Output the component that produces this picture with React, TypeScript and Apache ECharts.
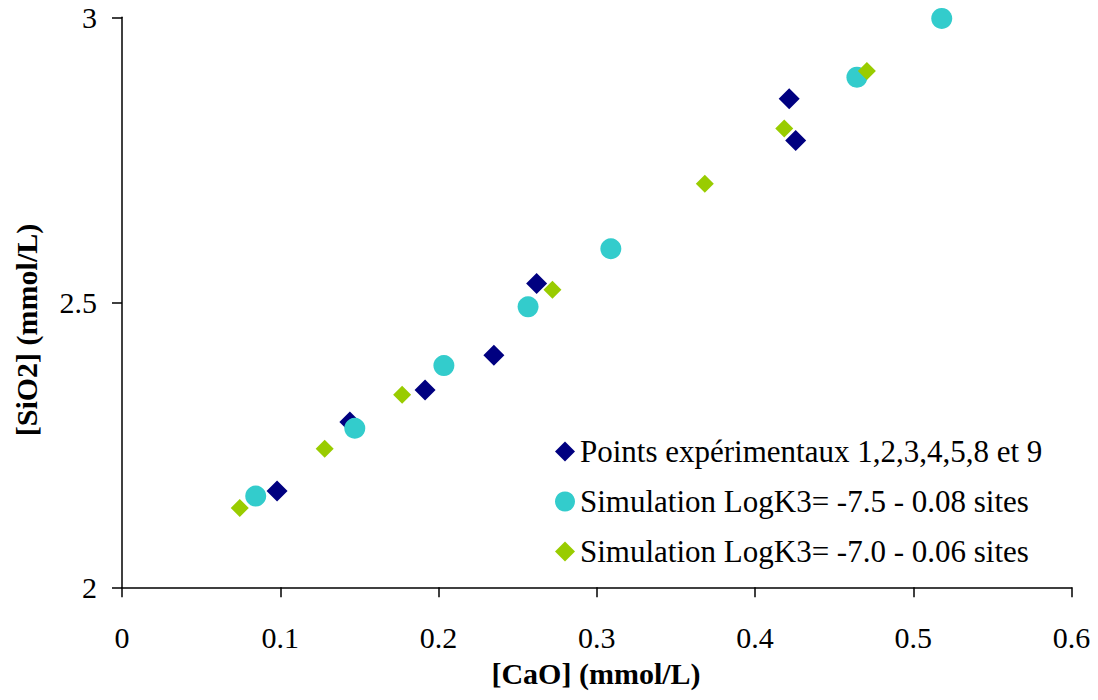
import React, { useEffect, useRef } from "react";
import * as echarts from "echarts";

const seriesNames = [
  "Points expérimentaux 1,2,3,4,5,8 et 9",
  "Simulation LogK3= -7.5 - 0.08 sites",
  "Simulation LogK3= -7.0 - 0.06 sites",
];

const experimental: [number, number][] = [
  [0.098, 2.169],
  [0.144, 2.29],
  [0.1915, 2.346],
  [0.235, 2.407],
  [0.262, 2.533],
  [0.4216, 2.857],
  [0.4257, 2.784],
];

const simulation75: [number, number][] = [
  [0.0845, 2.16],
  [0.1471, 2.279],
  [0.2034, 2.389],
  [0.2566, 2.492],
  [0.3089, 2.594],
  [0.4644, 2.895],
  [0.518, 2.998],
];

const simulation70: [number, number][] = [
  [0.0744, 2.139],
  [0.1281, 2.243],
  [0.177, 2.338],
  [0.272, 2.522],
  [0.3683, 2.708],
  [0.4185, 2.805],
  [0.4707, 2.906],
];

const colors = ["#000080", "#33CCCC", "#99CC00"];
const xTitle = "[CaO] (mmol/L)";
const yTitle = "[SiO2] (mmol/L)";
const FONT = "'Liberation Serif', 'Times New Roman', serif";

export default function App() {
  const ref = useRef<HTMLDivElement>(null);
  useEffect(() => {
    document.body.style.margin = "0";
    if (!ref.current) return;
    const chart = echarts.init(ref.current, null, { renderer: "svg" });
    chart.setOption({
      animation: false,
      backgroundColor: "#ffffff",
      grid: { left: 122, right: 26.5, top: 17.3, bottom: 112.7, containLabel: false },
      xAxis: {
        type: "value",
        min: 0,
        max: 0.6,
        interval: 0.1,
        axisLine: { show: true, lineStyle: { color: "#000", width: 1.5 } },
        axisTick: { show: true, inside: false, length: 10, lineStyle: { color: "#000", width: 1.5 } },
        axisLabel: { margin: 35, fontFamily: FONT, fontSize: 30, color: "#000" },
        splitLine: { show: false },
      },
      yAxis: {
        type: "value",
        min: 2,
        max: 3,
        interval: 0.5,
        axisLine: { show: true, lineStyle: { color: "#000", width: 1.5 } },
        axisTick: { show: true, inside: false, length: 10, lineStyle: { color: "#000", width: 1.5 } },
        axisLabel: { margin: 25, fontFamily: FONT, fontSize: 30, color: "#000" },
        splitLine: { show: false },
      },
      legend: {
        orient: "vertical",
        left: 550,
        top: 431,
        itemWidth: 20,
        itemHeight: 20,
        itemGap: 19,
        textStyle: { fontFamily: FONT, fontSize: 31, color: "#000", lineHeight: 31 },
        data: seriesNames,
      },
      graphic: [
        {
          type: "text",
          x: 596,
          y: 673,
          style: {
            text: xTitle,
            font: `bold 30px ${FONT}`,
            fill: "#000",
            textAlign: "center",
            textVerticalAlign: "middle",
          },
        },
        {
          type: "text",
          x: 26,
          y: 330,
          rotation: Math.PI / 2,
          style: {
            text: yTitle,
            font: `bold 30px ${FONT}`,
            fill: "#000",
            textAlign: "center",
            textVerticalAlign: "middle",
          },
        },
      ],
      series: [
        {
          name: seriesNames[0],
          type: "scatter",
          symbol: "diamond",
          symbolSize: 21,
          itemStyle: { color: colors[0], opacity: 1 },
          data: experimental,
        },
        {
          name: seriesNames[1],
          type: "scatter",
          symbol: "circle",
          symbolSize: 21,
          itemStyle: { color: colors[1], opacity: 1 },
          data: simulation75,
        },
        {
          name: seriesNames[2],
          type: "scatter",
          symbol: "diamond",
          symbolSize: 18,
          itemStyle: { color: colors[2], opacity: 1 },
          data: simulation70,
        },
      ],
    });
    return () => chart.dispose();
  }, []);
  return <div ref={ref} style={{ width: 1098, height: 700 }} />;
}
